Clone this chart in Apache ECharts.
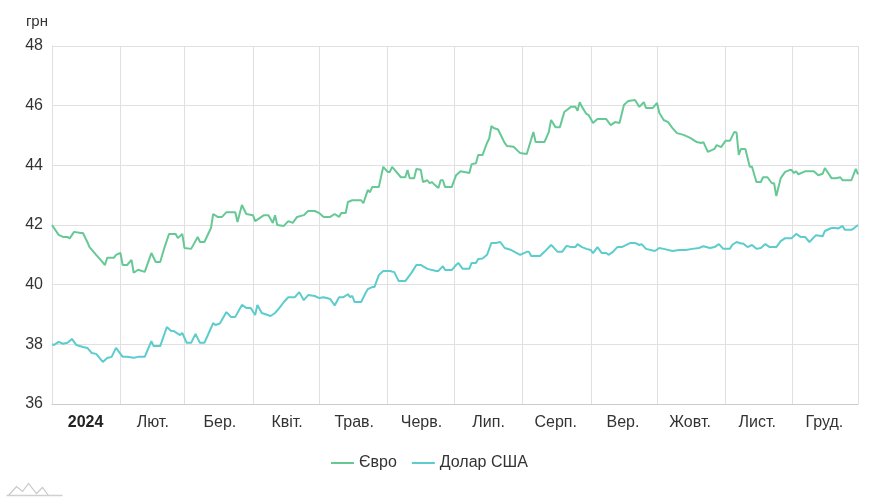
<!DOCTYPE html>
<html>
<head>
<meta charset="utf-8">
<script src="https://cdn.jsdelivr.net/npm/echarts@6/dist/echarts.min.js"></script>
<style>
html,body{margin:0;padding:0;background:#fff;}
#chart{width:891px;height:500px;}
</style>
</head>
<body>
<div id="chart"></div>
<script>
const year = 2024;
const monthLabels = ['2024','Лют.','Бер.','Квіт.','Трав.','Черв.','Лип.','Серп.','Вер.','Жовт.','Лист.','Груд.'];
const yTicks = [36, 38, 40, 42, 44, 46, 48];
const seriesNames = ['Євро', 'Долар США'];

const euroData = [
['01-01',42.0],['01-04',41.67],['01-06',41.6],['01-08',41.6],['01-09',41.55],['01-11',41.77],['01-14',41.73],['01-15',41.73],
['01-17',41.43],['01-18',41.26],['01-21',41.0],['01-23',40.83],['01-25',40.66],['01-26',40.9],['01-29',40.9],['01-30',41.0],
['02-01',41.06],['02-02',40.66],['02-04',40.66],['02-06',40.83],['02-07',40.4],['02-09',40.5],['02-12',40.43],['02-15',41.06],
['02-17',40.76],['02-19',40.76],['02-21',41.26],['02-23',41.7],['02-26',41.7],['02-27',41.56],['02-29',41.7],
['03-01',41.23],['03-04',41.2],['03-07',41.6],['03-08',41.43],['03-10',41.43],['03-13',41.9],['03-14',42.37],['03-16',42.27],
['03-18',42.27],['03-20',42.43],['03-24',42.43],['03-25',42.1],['03-27',42.67],['03-29',42.37],
['04-01',42.33],['04-02',42.13],['04-04',42.23],['04-06',42.33],['04-08',42.33],['04-10',42.07],['04-11',42.33],['04-12',42.0],
['04-15',41.97],['04-17',42.13],['04-19',42.07],['04-21',42.27],['04-24',42.33],['04-26',42.47],['04-29',42.47],
['05-01',42.4],['05-03',42.27],['05-06',42.27],['05-08',42.37],['05-10',42.27],['05-11',42.4],['05-13',42.4],['05-14',42.77],
['05-16',42.83],['05-20',42.83],['05-21',42.73],['05-23',43.17],['05-24',43.1],['05-25',43.27],['05-28',43.27],['05-30',43.95],
['06-01',43.78],['06-02',43.78],['06-03',43.95],['06-07',43.6],['06-09',43.6],['06-10',43.84],['06-11',43.57],['06-13',43.57],
['06-14',43.88],['06-16',43.85],['06-17',43.44],['06-19',43.5],['06-20',43.4],['06-21',43.44],['06-22',43.37],['06-24',43.24],
['06-25',43.5],['06-26',43.5],['06-27',43.27],['06-30',43.27],
['07-02',43.67],['07-04',43.8],['07-08',43.74],['07-09',44.04],['07-11',44.07],['07-12',44.35],['07-14',44.35],['07-16',44.75],
['07-17',44.9],['07-18',45.32],['07-19',45.25],['07-21',45.2],['07-24',44.75],['07-25',44.65],['07-28',44.62],['07-31',44.41],
['08-03',44.38],['08-06',45.12],['08-07',44.78],['08-11',44.78],['08-13',45.12],['08-14',45.52],['08-16',45.28],['08-18',45.28],
['08-20',45.79],['08-23',45.96],['08-25',45.96],['08-26',45.83],['08-27',46.12],['08-28',45.96],['08-30',45.72],['08-31',45.69],
['09-02',45.42],['09-04',45.55],['09-08',45.55],['09-10',45.35],['09-12',45.45],['09-14',45.42],['09-16',46.02],['09-18',46.16],
['09-21',46.19],['09-23',45.96],['09-25',46.12],['09-26',45.92],['09-29',45.92],
['10-01',46.09],['10-02',45.76],['10-04',45.52],['10-06',45.45],['10-08',45.25],['10-10',45.08],['10-13',45.02],['10-16',44.92],
['10-19',44.78],['10-21',44.75],['10-22',44.78],['10-24',44.45],['10-27',44.55],['10-28',44.68],['10-30',44.61],
['11-01',44.82],['11-03',44.82],['11-05',45.12],['11-06',45.1],['11-07',44.35],['11-08',44.55],['11-10',44.55],['11-12',43.95],
['11-13',43.95],['11-15',43.44],['11-17',43.44],['11-18',43.6],['11-20',43.6],['11-22',43.4],['11-23',43.4],['11-24',42.97],
['11-26',43.57],['11-28',43.78],['11-30',43.84],
['12-01',43.84],['12-02',43.74],['12-03',43.8],['12-04',43.7],['12-07',43.8],['12-11',43.8],['12-13',43.67],['12-15',43.72],
['12-16',43.91],['12-19',43.57],['12-21',43.57],['12-23',43.6],['12-24',43.5],['12-28',43.5],['12-30',43.88],['12-31',43.7]
];

const usdData = [
['01-01',38.0],['01-02',37.98],['01-04',38.08],['01-06',38.02],['01-08',38.05],['01-10',38.18],['01-12',37.98],['01-15',37.91],
['01-17',37.88],['01-19',37.71],['01-21',37.68],['01-24',37.41],['01-26',37.54],['01-28',37.58],['01-30',37.88],
['02-02',37.58],['02-04',37.58],['02-07',37.55],['02-09',37.58],['02-12',37.58],['02-15',38.11],['02-16',37.94],['02-19',37.94],
['02-22',38.58],['02-24',38.45],['02-25',38.45],['02-28',38.31],['02-29',38.38],
['03-02',38.05],['03-04',38.05],['03-06',38.35],['03-08',38.05],['03-10',38.05],['03-12',38.38],['03-14',38.71],['03-15',38.65],
['03-17',38.7],['03-20',39.08],['03-22',38.92],['03-24',38.92],['03-27',39.32],['03-29',39.22],['03-31',39.22],
['04-02',38.98],['04-03',39.32],['04-05',39.05],['04-07',39.0],['04-09',38.95],['04-11',39.05],['04-13',39.22],['04-15',39.42],
['04-17',39.58],['04-20',39.58],['04-22',39.75],['04-24',39.48],['04-26',39.65],['04-29',39.62],
['05-01',39.55],['05-03',39.58],['05-06',39.52],['05-08',39.3],['05-10',39.58],['05-12',39.58],['05-14',39.68],['05-15',39.58],
['05-16',39.62],['05-17',39.42],['05-20',39.42],['05-22',39.72],['05-23',39.85],['05-25',39.92],['05-26',39.92],['05-28',40.32],
['05-30',40.46],
['06-02',40.46],['06-04',40.42],['06-06',40.12],['06-09',40.12],['06-11',40.32],['06-12',40.42],['06-14',40.66],['06-16',40.66],
['06-19',40.53],['06-23',40.46],['06-24',40.46],['06-26',40.62],['06-27',40.49],['06-30',40.49],
['07-02',40.66],['07-03',40.73],['07-05',40.53],['07-08',40.53],['07-09',40.73],['07-11',40.73],['07-12',40.86],['07-14',40.88],
['07-16',41.0],['07-18',41.4],['07-20',41.4],['07-22',41.43],['07-24',41.23],['07-27',41.16],['07-31',41.0],
['08-03',41.1],['08-04',41.1],['08-05',40.96],['08-09',40.96],['08-11',41.1],['08-14',41.33],['08-15',41.26],['08-17',41.1],
['08-19',41.1],['08-21',41.3],['08-23',41.26],['08-25',41.26],['08-26',41.36],['08-28',41.26],['08-30',41.2],
['09-01',41.16],['09-02',41.06],['09-04',41.26],['09-06',41.06],['09-08',41.06],['09-09',41.0],['09-11',41.1],['09-13',41.26],
['09-15',41.26],['09-19',41.4],['09-21',41.4],['09-23',41.33],['09-24',41.36],['09-26',41.2],['09-30',41.13],
['10-02',41.23],['10-04',41.2],['10-08',41.13],['10-11',41.16],['10-14',41.16],['10-17',41.2],['10-20',41.23],['10-22',41.29],
['10-25',41.23],['10-27',41.26],['10-29',41.36],['10-31',41.2],
['11-03',41.2],['11-04',41.33],['11-06',41.43],['11-08',41.38],['11-09',41.38],['11-11',41.26],['11-13',41.33],['11-15',41.2],
['11-17',41.23],['11-19',41.36],['11-21',41.26],['11-24',41.26],['11-26',41.46],['11-28',41.56],
['12-01',41.56],['12-03',41.7],['12-05',41.6],['12-07',41.6],['12-09',41.43],['12-12',41.66],['12-15',41.62],['12-16',41.8],
['12-19',41.9],['12-21',41.9],['12-22',41.88],['12-24',41.97],['12-25',41.84],['12-28',41.84],['12-29',41.88],['12-31',42.0]
];

const toSeries = arr => arr.map(p => [year + '-' + p[0], p[1]]);
const FONT = 'Liberation Sans, Arial, sans-serif';
const chart = echarts.init(document.getElementById('chart'), null, {renderer: 'canvas'});

chart.setOption({
  animation: false,
  textStyle: {fontFamily: FONT},
  grid: {left: 52, right: 33, top: 46, bottom: 96, containLabel: false},
  legend: {
    left: 326, top: 450,
    icon: 'rect',
    itemWidth: 23, itemHeight: 2, itemGap: 15,
    textStyle: {fontSize: 16, color: '#333', fontFamily: FONT},
    data: seriesNames
  },
  xAxis: [
    {
      type: 'time',
      min: year + '-01-01', max: year + '-12-31',
      splitNumber: 12,
      axisLabel: {show: false},
      axisTick: {show: false},
      axisLine: {show: false},
      splitLine: {show: true, lineStyle: {color: '#e0e0e0', width: 1}}
    },
    {
      type: 'category',
      position: 'bottom',
      data: monthLabels.map((m, i) => i === 0 ? {value: m, textStyle: {fontWeight: 'bold', color: '#222'}} : m),
      boundaryGap: true,
      axisLine: {show: true, lineStyle: {color: '#cccccc'}},
      axisTick: {show: false},
      splitLine: {show: false},
      axisLabel: {fontSize: 16, color: '#333', margin: 11, interval: 0, fontFamily: FONT}
    }
  ],
  yAxis: {
    type: 'value',
    min: yTicks[0], max: yTicks[yTicks.length - 1], interval: 2,
    name: 'грн',
    nameLocation: 'end',
    nameGap: 17,
    nameTextStyle: {fontSize: 15, color: '#333', align: 'right', padding: [0, 4, 0, 0], fontFamily: FONT},
    axisLine: {show: true, lineStyle: {color: '#e0e0e0'}},
    axisTick: {show: false},
    axisLabel: {fontSize: 16, color: '#333', margin: 9, fontFamily: FONT},
    splitLine: {show: true, lineStyle: {color: '#e0e0e0'}}
  },
  graphic: [
    {
      type: 'polyline', left: 6, top: 481,
      shape: {points: [[0,13],[8,4],[14,9],[20,1],[28,11],[34,5],[40,13]]},
      style: {stroke: '#c8c8c8', lineWidth: 1.2, fill: null}
    },
    {
      type: 'line', left: 4, top: 493,
      shape: {x1: 0, y1: 0, x2: 56, y2: 0},
      style: {stroke: '#d0d0d0', lineWidth: 1.5}
    }
  ],
  series: [
    {
      name: seriesNames[0], type: 'line', xAxisIndex: 0,
      data: toSeries(euroData), showSymbol: false, symbol: 'none',
      lineStyle: {color: '#66c995', width: 2}, itemStyle: {color: '#66c995'}
    },
    {
      name: seriesNames[1], type: 'line', xAxisIndex: 0,
      data: toSeries(usdData), showSymbol: false, symbol: 'none',
      lineStyle: {color: '#5ccccc', width: 2}, itemStyle: {color: '#5ccccc'}
    }
  ]
});
</script>
</body>
</html>
